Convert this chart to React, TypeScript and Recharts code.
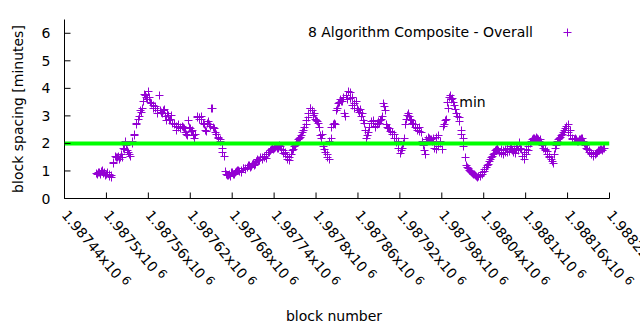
import React from 'react';
import { ScatterChart, Scatter, XAxis, YAxis, ReferenceDot } from 'recharts';

const seriesName = '8 Algorithm Composite - Overall';
const xAxisTitle = 'block number';
const yAxisTitle = 'block spacing [minutes]';
const firstBlock = 1987485;
const blockStep = 3;
// blocks firstBlock, firstBlock+3, ...
const spacingMinutes = [
  0.93, 0.97, 0.9, 1.02, 0.95, 0.88, 0.8, 0.86, 1.32, 1.55,
  1.5, 1.45, 1.62, 1.85, 2.1, 1.75, 1.6, 2.0, 2.35, 2.75,
  2.9, 3.2, 3.3, 3.8, 3.7, 3.9, 3.5, 3.38, 3.3, 3.2,
  3.75, 3.15, 3.2, 3.0, 3.1, 2.85, 3.05, 2.75, 2.5, 2.7,
  2.6, 2.65, 2.55, 2.35, 2.85, 2.55, 2.5, 2.2, 2.95, 2.9,
  3.0, 2.75, 2.5, 2.75, 2.7, 3.27, 2.6, 2.4, 2.2, 2.15,
  1.85, 1.55, 0.88, 0.85, 0.82, 0.95, 0.9, 1.0, 1.02, 0.98,
  1.1, 1.08, 1.15, 1.2, 1.18, 1.3, 1.25, 1.45, 1.4, 1.5,
  1.55, 1.48, 1.7, 1.75, 1.82, 1.85, 1.9, 1.85, 1.92, 1.75,
  1.7, 1.56, 1.38, 1.6, 1.8, 1.93, 2.05, 2.2, 2.3, 2.47,
  2.7, 2.95, 3.27, 3.2, 3.1, 2.85, 2.75, 2.3, 2.35, 1.8,
  1.63, 1.45, 2.2, 2.7, 2.7, 3.3, 3.5, 3.55, 3.67, 3.0,
  3.6, 3.85, 3.7, 3.3, 3.55, 3.2, 3.25, 3.1, 2.75, 2.2,
  2.4, 2.75, 2.85, 2.6, 2.7, 2.75, 2.9, 3.45, 3.2, 2.6,
  2.55, 2.4, 2.35, 2.2, 2.1, 1.67, 1.85, 2.2, 2.9, 3.1,
  2.9, 2.75, 2.7, 2.55, 2.6, 2.4, 1.93, 1.63, 2.1, 2.2,
  2.17, 2.2, 1.8, 2.3, 2.0, 1.8, 2.7, 2.9, 3.3, 3.75,
  3.65, 3.38, 3.1, 2.95, 2.5, 2.2, 1.5, 1.13, 1.05, 0.98,
  0.9, 0.85, 0.77, 0.82, 0.88, 1.0, 1.15, 1.27, 1.42, 1.55,
  1.67, 1.8, 1.75, 1.78, 1.6, 1.7, 1.85, 1.72, 1.85, 1.7,
  1.67, 1.9, 2.05, 1.8, 1.45, 1.6, 1.75, 2.0, 2.17, 2.2,
  2.22, 2.15, 2.17, 1.93, 1.8, 1.72, 1.55, 1.45, 1.3, 1.85,
  2.1, 2.2, 2.3, 2.4, 2.55, 2.7, 2.5, 2.2, 2.15, 2.15,
  2.1, 2.15, 2.2, 2.0, 1.85, 1.75, 1.67, 1.55, 1.6, 1.7,
  1.75, 1.8, 1.82,
];
// blocks firstBlock+1, firstBlock+4, ...
const spacingMinutesB = [
  0.9, 0.95, 1.0, 0.92, 0.85, 0.95, 0.9, 0.78, 1.3, 1.5,
  1.56, 1.52, 1.5, 1.8, 1.95, 1.7, 1.55, 2.1, 2.3, 2.7,
  3.0, 3.15, 3.55, 3.75, 3.6, 3.7, 3.45, 3.3, 3.35, 3.1,
  3.2, 3.1, 3.25, 2.85, 3.05, 2.9, 2.75, 2.7, 2.65, 2.6,
  2.55, 2.6, 2.4, 2.3, 2.6, 2.45, 2.3, 2.35, 3.0, 2.95,
  2.9, 2.7, 2.45, 2.8, 2.65, 3.3, 2.55, 2.35, 2.25, 2.1,
  1.7, 1.0, 0.85, 0.9, 0.95, 0.88, 0.98, 1.05, 1.0, 1.05,
  1.12, 1.1, 1.2, 1.15, 1.25, 1.22, 1.35, 1.4, 1.5, 1.45,
  1.5, 1.62, 1.68, 1.8, 1.78, 1.88, 1.85, 1.95, 1.8, 1.65,
  1.6, 1.45, 1.5, 1.75, 1.9, 2.0, 2.15, 2.25, 2.4, 2.6,
  2.85, 3.1, 3.3, 3.05, 2.9, 2.8, 2.6, 2.2, 1.9, 1.7,
  1.5, 2.1, 2.6, 2.75, 3.2, 3.45, 3.6, 3.55, 3.1, 3.75,
  3.9, 3.65, 3.4, 3.45, 3.3, 3.15, 3.0, 2.85, 2.5, 2.3,
  2.6, 2.8, 2.75, 2.65, 2.8, 2.85, 3.0, 3.35, 2.7, 2.55,
  2.45, 2.35, 2.2, 2.05, 1.85, 1.75, 2.0, 2.7, 3.05, 3.0,
  2.85, 2.7, 2.6, 2.5, 2.45, 2.1, 1.75, 2.15, 2.25, 2.15,
  2.1, 1.85, 2.25, 1.9, 2.1, 2.65, 2.85, 3.5, 3.7, 3.6,
  3.5, 3.25, 3.0, 2.8, 2.35, 1.9, 1.2, 1.1, 1.0, 0.92,
  0.88, 0.8, 0.8, 0.85, 0.95, 1.08, 1.2, 1.35, 1.5, 1.62,
  1.75, 1.85, 1.7, 1.65, 1.75, 1.8, 1.7, 1.9, 1.75, 1.8,
  1.85, 1.75, 1.85, 1.55, 1.7, 1.8, 1.9, 2.1, 2.2, 2.15,
  2.2, 2.1, 2.0, 1.85, 1.75, 1.6, 1.5, 1.35, 1.6, 1.95,
  2.15, 2.25, 2.35, 2.5, 2.65, 2.4, 2.3, 2.15, 2.2, 2.1,
  2.15, 2.2, 2.1, 1.95, 1.8, 1.7, 1.6, 1.6, 1.65, 1.75,
  1.8, 1.75, 1.85,
];
const targetMinutes = 2;
const xTicks = [
  1987440, 1987500, 1987560, 1987620, 1987680, 1987740, 1987800,
  1987860, 1987920, 1987980, 1988040, 1988100, 1988160, 1988220,
];
const yTicks = [0, 1, 2, 3, 4, 5, 6];
const minMarker = { block: 1988005, minutes: 3.49, text: 'min' };

const FONT = 'DejaVu Sans';
const PURPLE = '#9400d3';
const GREEN = '#00ff00';

const data = [
  ...spacingMinutes.map((v, i) => ({ block: firstBlock + i * blockStep, minutes: v })),
  ...spacingMinutesB.map((v, i) => ({ block: firstBlock + 1 + i * blockStep, minutes: v })),
].sort((a, b) => a.block - b.block);
const targetData = [
  { block: xTicks[0], minutes: targetMinutes },
  { block: xTicks[xTicks.length - 1], minutes: targetMinutes },
];

const Cross = (props: any) => {
  const { cx, cy } = props;
  if (cx == null || cy == null) return null;
  const x = Math.round(cx) + 0.5;
  const y = Math.round(cy) + 0.5;
  return <path d={`M${x - 4},${y}h8M${x},${y - 4}v8`} stroke={PURPLE} strokeWidth={1} fill="none" />;
};

const fmt = (v: number) => String(v / 1e6);

const BottomTick = (props: any) => {
  const { x, y, payload } = props;
  const ox = x - 3.5;
  const oy = y + 17;
  return (
    <g>
      <line x1={x} y1={y} x2={x} y2={y - 6} stroke="#000" />
      <text
        x={ox}
        y={oy}
        transform={`rotate(50 ${ox} ${oy})`}
        fontFamily={FONT}
        fontSize={14}
        fill="#000"
        textAnchor="start"
      >
        {fmt(payload.value)}x10<tspan dx={4} dy={-4} fontSize={12}>6</tspan>
      </text>
    </g>
  );
};

const TopTick = (props: any) => {
  const { x, y } = props;
  return <line x1={x} y1={y} x2={x} y2={y + 6} stroke="#000" />;
};

const LeftTick = (props: any) => {
  const { x, y, payload } = props;
  return (
    <g>
      <line x1={x} y1={y} x2={x + 6} y2={y} stroke="#000" />
      <text x={x - 14} y={y + 5} textAnchor="end" fontFamily={FONT} fontSize={14} fill="#000">
        {payload.value}
      </text>
    </g>
  );
};

const RightTick = (props: any) => {
  const { x, y } = props;
  return <line x1={x} y1={y} x2={x - 6} y2={y} stroke="#000" />;
};

const XTitle = (props: any) => {
  const vb = props.viewBox || {};
  return (
    <text x={vb.x + vb.width / 2 - 3} y={vb.y + 122.5} textAnchor="middle" fontFamily={FONT} fontSize={14} fill="#000">
      {xAxisTitle}
    </text>
  );
};

const YTitle = (props: any) => {
  const vb = props.viewBox || {};
  const cx = vb.x + 17.5;
  const cy = vb.y + vb.height / 2;
  return (
    <text
      x={cx}
      y={cy}
      transform={`rotate(-90 ${cx} ${cy})`}
      textAnchor="middle"
      dominantBaseline="central"
      fontFamily={FONT}
      fontSize={14}
      fill="#000"
    >
      {yAxisTitle}
    </text>
  );
};

const MinLabel = (props: any) => {
  const vb = props.viewBox || {};
  return (
    <text x={vb.x} y={vb.y + 5} fontFamily={FONT} fontSize={14} fill="#000">
      {minMarker.text}
    </text>
  );
};

export default function App() {
  return (
    <div style={{ position: 'absolute', left: 0, top: 0, width: 640, height: 330, background: '#fff' }}>
      <ScatterChart width={640} height={330} margin={{ top: 19.5, right: 30.5, bottom: 0, left: 0 }}>
        <XAxis
          xAxisId="bottom"
          dataKey="block"
          type="number"
          domain={[xTicks[0], xTicks[xTicks.length - 1]]}
          allowDataOverflow
          ticks={xTicks}
          interval={0}
          height={131.5}
          tickSize={0}
          tickMargin={0}
          tickLine={false}
          axisLine={{ stroke: '#000' }}
          tick={<BottomTick />}
          label={<XTitle />}
        />
        <XAxis
          xAxisId="top"
          orientation="top"
          dataKey="block"
          type="number"
          domain={[xTicks[0], xTicks[xTicks.length - 1]]}
          allowDataOverflow
          ticks={xTicks}
          interval={0}
          height={0}
          tickSize={0}
          tickMargin={0}
          tickLine={false}
          axisLine={{ stroke: '#000' }}
          tick={<TopTick />}
        />
        <YAxis
          yAxisId="left"
          dataKey="minutes"
          type="number"
          domain={[0, 6.5]}
          allowDataOverflow
          ticks={yTicks}
          interval={0}
          width={64.5}
          tickSize={0}
          tickMargin={0}
          tickLine={false}
          axisLine={{ stroke: '#000' }}
          tick={<LeftTick />}
          label={<YTitle />}
        />
        <YAxis
          yAxisId="right"
          orientation="right"
          dataKey="minutes"
          type="number"
          domain={[0, 6.5]}
          allowDataOverflow
          ticks={yTicks}
          interval={0}
          width={0}
          tickSize={0}
          tickMargin={0}
          tickLine={false}
          axisLine={{ stroke: '#000' }}
          tick={<RightTick />}
        />
        <Scatter
          name={seriesName}
          data={data}
          xAxisId="bottom"
          yAxisId="left"
          shape={<Cross />}
          isAnimationActive={false}
        />
        <Scatter
          data={targetData}
          xAxisId="top"
          yAxisId="right"
          line={{ stroke: GREEN, strokeWidth: 4 }}
          shape={() => <g />}
          isAnimationActive={false}
        />
        <ReferenceDot
          xAxisId="bottom"
          yAxisId="left"
          x={minMarker.block}
          y={minMarker.minutes}
          r={0}
          fill="none"
          stroke="none"
          label={<MinLabel />}
        />
      </ScatterChart>
      <svg width={640} height={60} style={{ position: 'absolute', left: 0, top: 0, pointerEvents: 'none' }}>
        <text x={533} y={37} textAnchor="end" fontFamily={FONT} fontSize={14} fill="#000">
          {seriesName}
        </text>
        <Cross cx={567} cy={32} />
      </svg>
    </div>
  );
}
